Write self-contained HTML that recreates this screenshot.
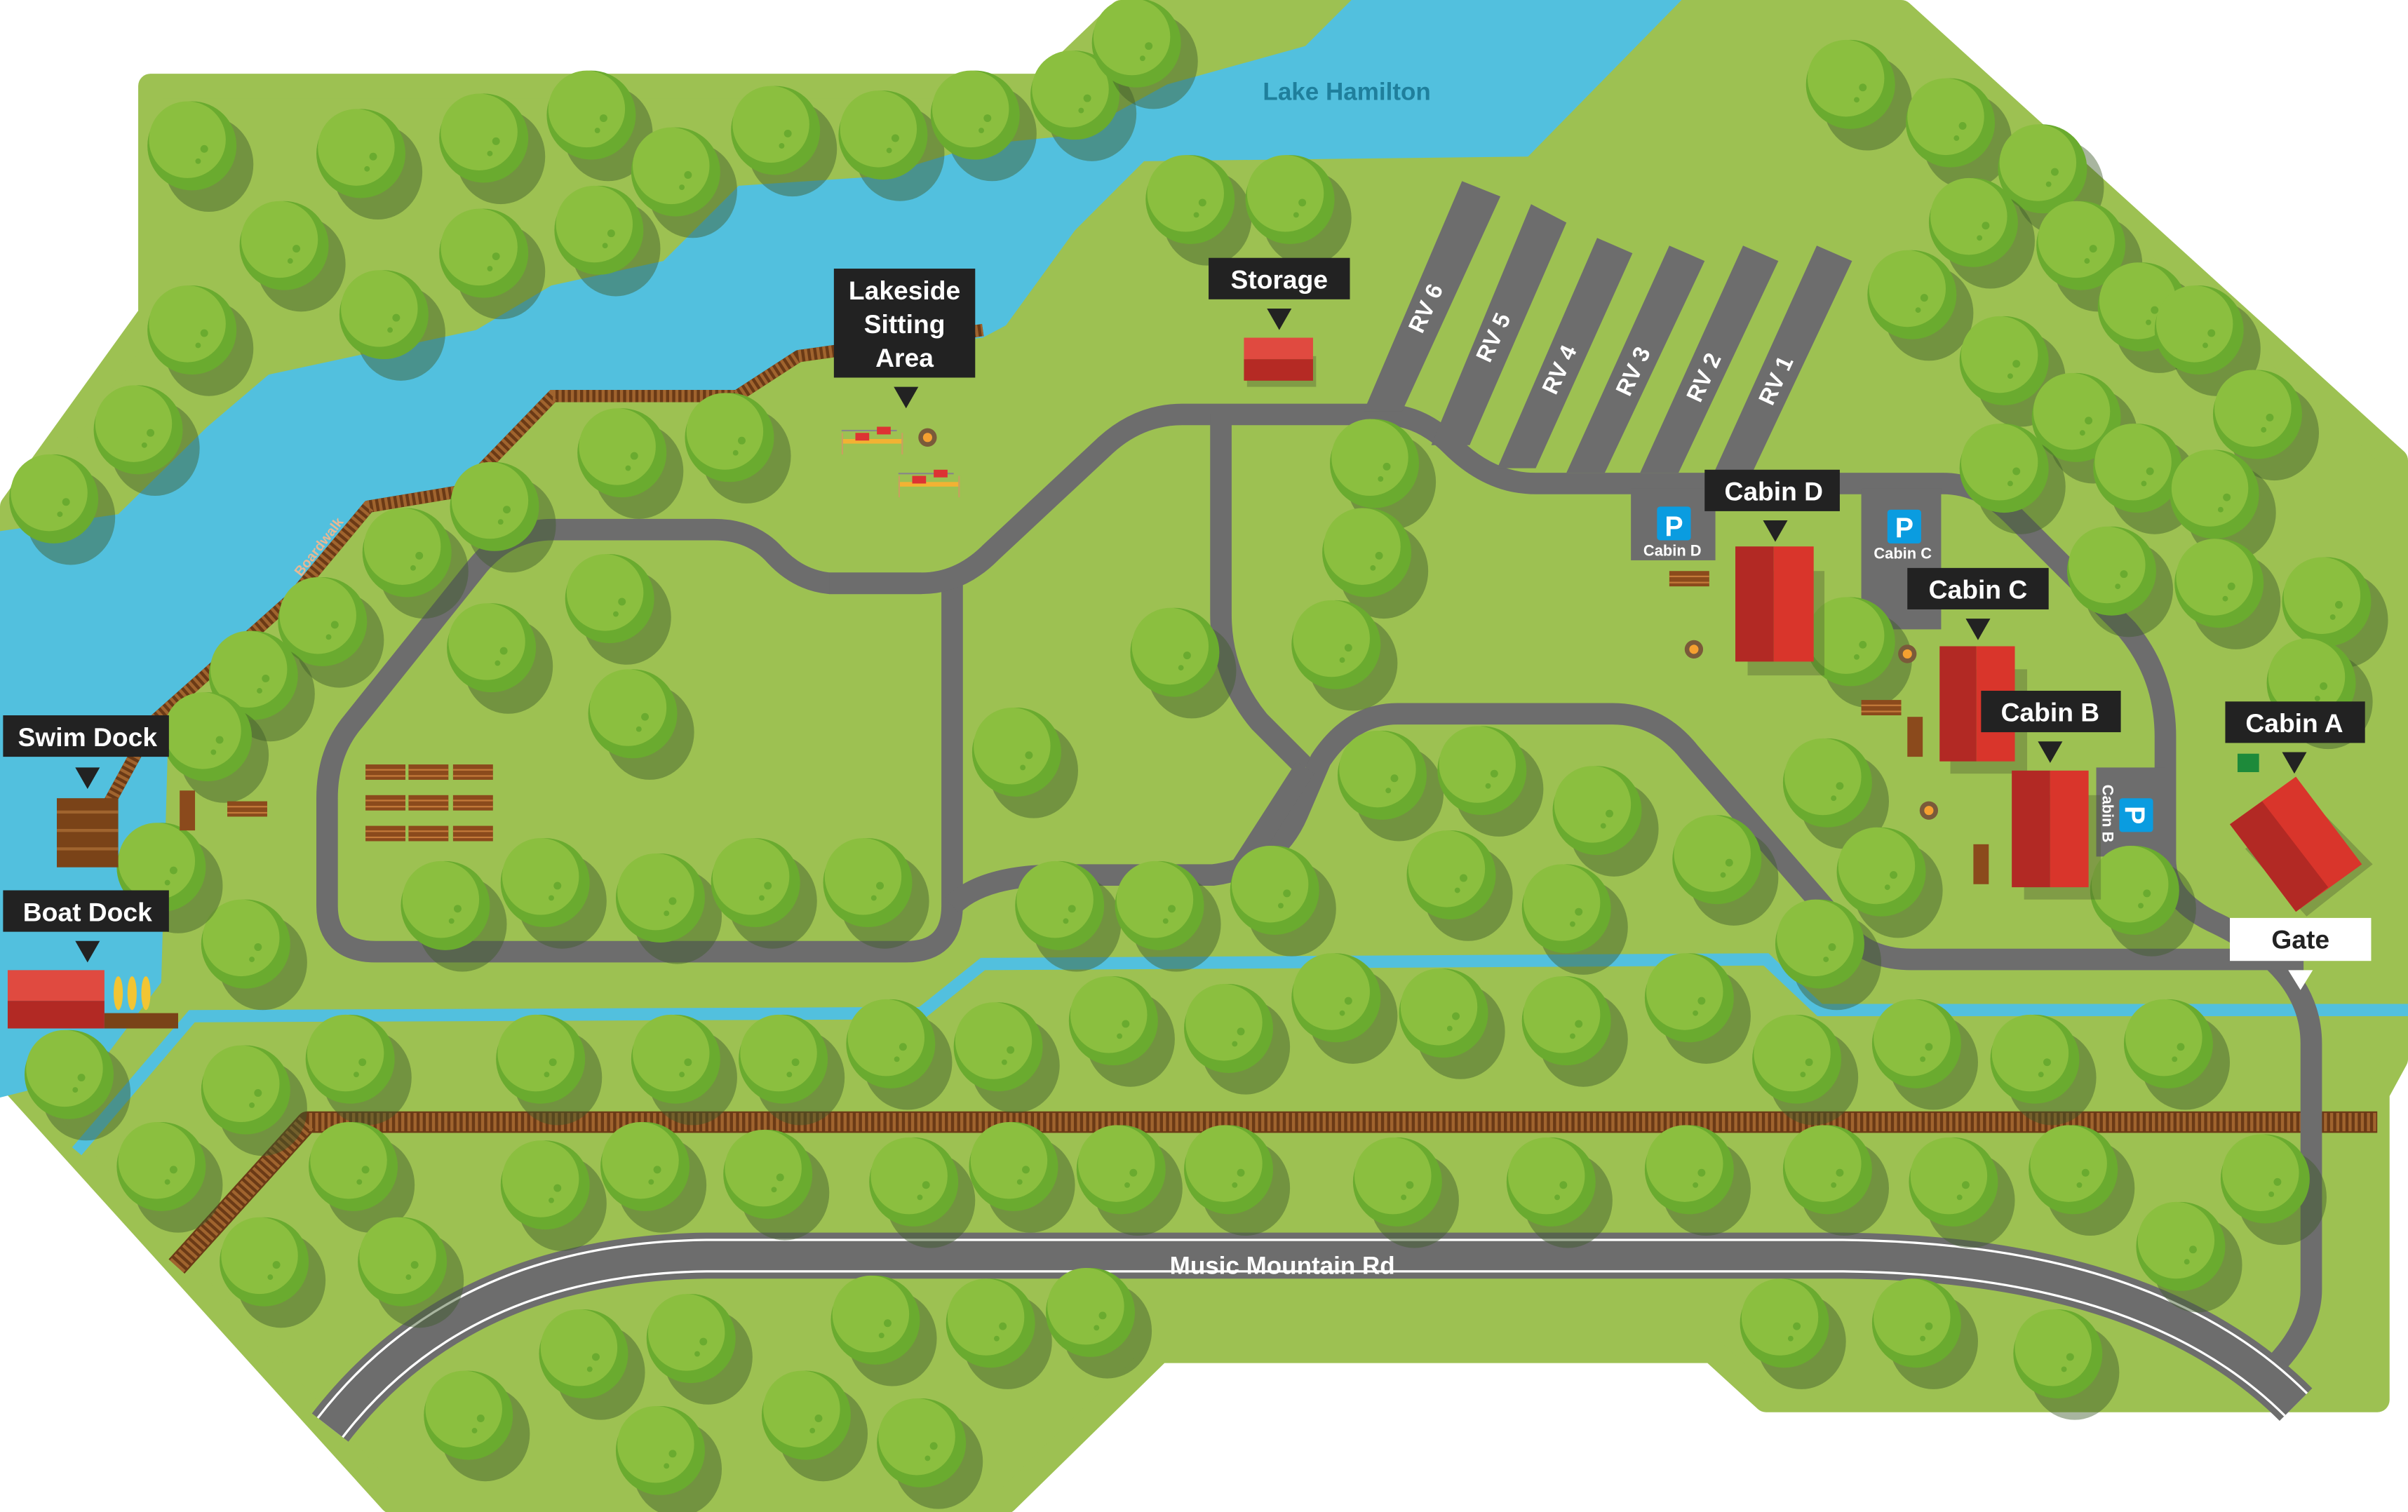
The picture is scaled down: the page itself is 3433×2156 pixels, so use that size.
<!DOCTYPE html>
<html><head><meta charset="utf-8"><style>
html,body{margin:0;padding:0;background:#fff;width:3433px;height:2156px;overflow:hidden}
svg{display:block}
.lb{font-family:"Liberation Sans",sans-serif;font-weight:bold;fill:#fff;font-size:17px;text-anchor:middle}
</style></head><body>
<svg width="3433" height="2156" viewBox="0 0 1568 985" preserveAspectRatio="none" xmlns="http://www.w3.org/2000/svg">
<defs>
<g id="t">
<ellipse cx="11" cy="12" rx="29" ry="31" fill="#3f5a2a" opacity=".45"/>
<circle cx="0" cy="0" r="29" fill="#6aab2f"/>
<ellipse cx="-3" cy="-4" rx="25" ry="25" fill="#8bbf3f"/>
<circle cx="8" cy="2" r="2.5" fill="#6aab2f"/><circle cx="4" cy="10" r="1.8" fill="#6aab2f"/>
</g>
<g id="pt"><rect x="-3" y="-10" width="36" height="1" fill="#888"/><rect x="-3" y="-4" width="40" height="3" fill="#f2b233"/><rect x="6" y="-8" width="9" height="5" fill="#d33"/><rect x="20" y="-12" width="9" height="5" fill="#d33"/><rect x="-3" y="-8" width="1" height="14" fill="#c9a060"/><rect x="36" y="-8" width="1" height="14" fill="#c9a060"/></g>
<g id="lg"><rect x="0" y="0" width="26" height="10" fill="#8b4a1c"/><rect x="0" y="3" width="26" height="1" fill="#c47a3a"/><rect x="0" y="7" width="26" height="1" fill="#c47a3a"/></g>
<g id="fp"><circle r="6" fill="#7a5a3a"/><circle r="3" fill="#f5a030"/></g>
</defs>

<!-- land -->
<polygon points="98,56 680,56 730,8 1238,8 1560,300 1560,690 1548,712 1548,912 1150,912 1115,880 755,880 655,978 255,978 8,705 8,330 98,205" fill="#9dc152" stroke="#9dc152" stroke-width="16" stroke-linejoin="round"/>

<!-- water -->
<polygon points="0,346 77,335 135,278 175,244 310,215 359,186 432,170 481,121 571,115 640,94 700,88 760,55 850,30 880,0 1095,0 995,102 745,105 700,150 655,212 640,220 520,232 480,255 360,258 300,318 245,328 200,380 110,460 105,640 60,700 0,715" fill="#52c0de"/>
<polyline points="50,750 125,662 600,660 640,628 1150,625 1185,658 1568,658" fill="none" stroke="#52c0de" stroke-width="8"/>
<text x="877" y="65" font-family="Liberation Sans,sans-serif" font-weight="bold" font-size="16" fill="#1f7f9c" text-anchor="middle">Lake Hamilton</text>

<!-- boardwalk -->
<polyline points="70,525 100,470 190,390 240,330 300,320 360,258 480,258 520,232 640,215" fill="none" stroke="#6b3a16" stroke-width="8" stroke-linejoin="round"/>
<polyline points="70,525 100,470 190,390 240,330 300,320 360,258 480,258 520,232 640,215" fill="none" stroke="#a0642e" stroke-width="8" stroke-dasharray="2,2"/>
<text transform="translate(210,358) rotate(-52)" font-family="Liberation Sans,sans-serif" font-weight="bold" font-size="9" fill="#e7b894" text-anchor="middle">Boardwalk</text>

<!-- railway -->
<polyline points="115,825 200,731 1548,731" fill="none" stroke="#6b3a16" stroke-width="14" stroke-linejoin="round"/>
<polyline points="115,825 200,731 1548,731" fill="none" stroke="#a0642e" stroke-width="12" stroke-dasharray="2,2"/>

<!-- roads -->
<g fill="none" stroke="#6d6d6d" stroke-width="14" stroke-linejoin="round" stroke-linecap="butt">
<path d="M 600,380 L 540,380 Q 520,378 505,362 Q 490,345 465,345 L 360,345 Q 330,345 310,370 L 230,470 Q 213,490 213,520 L 213,590 Q 213,620 245,620 L 590,620 Q 620,620 620,590 L 620,380"/>
<path d="M 540,380 L 600,380 Q 625,380 645,360 L 720,290 Q 742,270 770,270 L 900,270 Q 925,270 945,290 Q 970,315 1000,315 L 1265,315 Q 1290,315 1310,335 L 1385,410 Q 1410,440 1410,480 L 1410,560 Q 1410,585 1440,600 Q 1505,630 1505,680 L 1505,840 Q 1505,870 1470,900"/>
<path d="M 795,270 L 795,400 Q 795,440 820,470 L 850,500"/>
<path d="M 620,590 Q 640,570 690,570 L 790,570 Q 830,565 845,530 L 860,495 Q 880,465 910,465 L 1050,465 Q 1080,465 1100,490 L 1200,605 Q 1215,625 1245,625 L 1500,625"/>
<path d="M 850,500 L 805,570"/>
</g>
<!-- RV pads -->
<g fill="#6d6d6d">
<polygon points="888,268 913,268 977,128 952,118"/>
<polygon points="932,290 957,290 1020,145 997,133"/>
<polygon points="975,305 1000,305 1063,165 1040,155"/>
<polygon points="1020,308 1045,308 1110,170 1087,160"/>
<polygon points="1068,308 1093,308 1158,170 1135,160"/>
<polygon points="1116,308 1141,308 1206,170 1183,160"/>
</g>
<g font-family="Liberation Sans,sans-serif" font-weight="bold" font-size="15" fill="#fff" text-anchor="middle">
<text transform="translate(933,203) rotate(-65)">RV 6</text>
<text transform="translate(977,222) rotate(-65)">RV 5</text>
<text transform="translate(1020,243) rotate(-65)">RV 4</text>
<text transform="translate(1068,244) rotate(-65)">RV 3</text>
<text transform="translate(1114,248) rotate(-65)">RV 2</text>
<text transform="translate(1161,250) rotate(-65)">RV 1</text>
</g>
<!-- parking -->
<rect x="1062" y="318" width="55" height="47" fill="#6d6d6d"/>
<rect x="1212" y="318" width="52" height="92" fill="#6d6d6d"/>
<rect x="1365" y="500" width="45" height="58" fill="#6d6d6d"/>
<g font-family="Liberation Sans,sans-serif" font-weight="bold" fill="#fff" text-anchor="middle">
<rect x="1079" y="330" width="22" height="22" rx="2" fill="#0a9ce0"/><text x="1090" y="349" font-size="18">P</text><text x="1089" y="362" font-size="10">Cabin D</text>
<rect x="1229" y="332" width="22" height="22" rx="2" fill="#0a9ce0"/><text x="1240" y="350" font-size="18">P</text><text x="1239" y="364" font-size="10">Cabin C</text>
<rect x="1380" y="520" width="22" height="22" rx="2" fill="#0a9ce0"/><text transform="translate(1391,531) rotate(90)" x="0" y="7" font-size="18">P</text>
<text transform="translate(1369,530) rotate(90)" font-size="10">Cabin B</text>
</g>

<!-- Music Mountain Rd -->
<path d="M 215,930 Q 300,820 460,818 L 1200,818 Q 1400,820 1495,915" fill="none" stroke="#6d6d6d" stroke-width="30"/>
<path d="M 215,930 Q 300,820 460,818 L 1200,818 Q 1400,820 1495,915" fill="none" stroke="#fff" stroke-width="22"/>
<path d="M 215,930 Q 300,820 460,818 L 1200,818 Q 1400,820 1495,915" fill="none" stroke="#6d6d6d" stroke-width="19"/>
<text x="835" y="830" font-family="Liberation Sans,sans-serif" font-weight="bold" font-size="16" fill="#fff" text-anchor="middle">Music Mountain Rd</text>

<!-- trees -->
<g>
<use href="#t" x="125" y="95"/><use href="#t" x="235" y="100"/><use href="#t" x="315" y="90"/><use href="#t" x="385" y="75"/><use href="#t" x="440" y="112"/><use href="#t" x="505" y="85"/><use href="#t" x="575" y="88"/><use href="#t" x="635" y="75"/><use href="#t" x="700" y="62"/><use href="#t" x="740" y="28"/><use href="#t" x="185" y="160"/><use href="#t" x="315" y="165"/><use href="#t" x="390" y="150"/><use href="#t" x="125" y="215"/><use href="#t" x="250" y="205"/><use href="#t" x="90" y="280"/><use href="#t" x="35" y="325"/><use href="#t" x="775" y="130"/><use href="#t" x="840" y="130"/><use href="#t" x="405" y="295"/><use href="#t" x="475" y="285"/><use href="#t" x="265" y="360"/><use href="#t" x="322" y="330"/><use href="#t" x="210" y="405"/><use href="#t" x="397" y="390"/><use href="#t" x="165" y="440"/><use href="#t" x="320" y="422"/><use href="#t" x="412" y="465"/><use href="#t" x="135" y="480"/><use href="#t" x="290" y="590"/><use href="#t" x="355" y="575"/><use href="#t" x="430" y="585"/><use href="#t" x="492" y="575"/><use href="#t" x="565" y="575"/><use href="#t" x="662" y="490"/><use href="#t" x="690" y="590"/><use href="#t" x="755" y="590"/><use href="#t" x="765" y="425"/><use href="#t" x="895" y="302"/><use href="#t" x="890" y="360"/><use href="#t" x="870" y="420"/><use href="#t" x="830" y="580"/><use href="#t" x="900" y="505"/><use href="#t" x="965" y="502"/><use href="#t" x="1040" y="528"/><use href="#t" x="945" y="570"/><use href="#t" x="1020" y="592"/><use href="#t" x="1118" y="560"/><use href="#t" x="1190" y="510"/><use href="#t" x="1225" y="568"/><use href="#t" x="1185" y="615"/><use href="#t" x="1205" y="418"/><use href="#t" x="1390" y="580"/><use href="#t" x="160" y="615"/><use href="#t" x="105" y="565"/>
<use href="#t" x="1205" y="55"/><use href="#t" x="1270" y="80"/><use href="#t" x="1330" y="110"/><use href="#t" x="1285" y="145"/><use href="#t" x="1245" y="192"/><use href="#t" x="1355" y="160"/><use href="#t" x="1395" y="200"/><use href="#t" x="1305" y="235"/><use href="#t" x="1352" y="272"/><use href="#t" x="1432" y="215"/><use href="#t" x="1470" y="270"/><use href="#t" x="1392" y="305"/><use href="#t" x="1305" y="305"/><use href="#t" x="1375" y="372"/><use href="#t" x="1442" y="322"/><use href="#t" x="1515" y="392"/><use href="#t" x="1505" y="445"/><use href="#t" x="1445" y="380"/>
<use href="#t" x="45" y="700"/><use href="#t" x="160" y="710"/><use href="#t" x="228" y="690"/><use href="#t" x="105" y="760"/><use href="#t" x="230" y="760"/><use href="#t" x="172" y="822"/><use href="#t" x="262" y="822"/><use href="#t" x="352" y="690"/><use href="#t" x="440" y="690"/><use href="#t" x="510" y="690"/><use href="#t" x="580" y="680"/><use href="#t" x="650" y="682"/><use href="#t" x="725" y="665"/><use href="#t" x="800" y="670"/><use href="#t" x="870" y="650"/><use href="#t" x="940" y="660"/><use href="#t" x="1020" y="665"/><use href="#t" x="1100" y="650"/><use href="#t" x="1170" y="690"/><use href="#t" x="1248" y="680"/><use href="#t" x="1325" y="690"/><use href="#t" x="1412" y="680"/><use href="#t" x="1475" y="768"/><use href="#t" x="1420" y="812"/><use href="#t" x="1350" y="762"/><use href="#t" x="1272" y="770"/><use href="#t" x="1190" y="762"/><use href="#t" x="1100" y="762"/><use href="#t" x="1010" y="770"/><use href="#t" x="910" y="770"/><use href="#t" x="800" y="762"/><use href="#t" x="730" y="762"/><use href="#t" x="660" y="760"/><use href="#t" x="595" y="770"/><use href="#t" x="500" y="765"/><use href="#t" x="420" y="760"/><use href="#t" x="355" y="772"/><use href="#t" x="305" y="922"/><use href="#t" x="380" y="882"/><use href="#t" x="450" y="872"/><use href="#t" x="430" y="945"/><use href="#t" x="525" y="922"/><use href="#t" x="570" y="860"/><use href="#t" x="645" y="862"/><use href="#t" x="710" y="855"/><use href="#t" x="600" y="940"/><use href="#t" x="1162" y="862"/><use href="#t" x="1248" y="862"/><use href="#t" x="1340" y="882"/>
</g>

<!-- buildings -->
<rect x="812" y="232" width="45" height="20" fill="#4a5a30" opacity=".35"/>
<rect x="810" y="220" width="45" height="14" fill="#e04a40"/><rect x="810" y="234" width="45" height="14" fill="#b52a24"/>
<g>
<rect x="1138" y="372" width="50" height="68" fill="#4a5a30" opacity=".35"/>
<rect x="1130" y="356" width="25" height="75" fill="#b22924"/><rect x="1155" y="356" width="26" height="75" fill="#d9352b"/>
<rect x="1270" y="436" width="50" height="68" fill="#4a5a30" opacity=".35"/>
<rect x="1263" y="421" width="24" height="75" fill="#b22924"/><rect x="1287" y="421" width="25" height="75" fill="#d9352b"/>
<rect x="1318" y="518" width="50" height="68" fill="#4a5a30" opacity=".35"/>
<rect x="1310" y="502" width="25" height="76" fill="#b22924"/><rect x="1335" y="502" width="25" height="76" fill="#d9352b"/>
<polygon points="1462,553 1505,522 1545,563 1502,597" fill="#4a5a30" opacity=".35"/>
<polygon points="1452,537 1495,506 1538,563 1495,594" fill="#d9352b"/>
<polygon points="1452,537 1473,522 1516,578 1495,594" fill="#b22924"/>
<rect x="1457" y="491" width="14" height="12" fill="#1d8a3a"/>
</g>
<!-- misc: logs, fire pits, tables -->
<use href="#lg" x="1087" y="372"/><use href="#lg" x="1212" y="456"/><use href="#lg" x="238" y="498"/><use href="#lg" x="266" y="498"/><use href="#lg" x="295" y="498"/><use href="#lg" x="238" y="518"/><use href="#lg" x="266" y="518"/><use href="#lg" x="295" y="518"/><use href="#lg" x="238" y="538"/><use href="#lg" x="266" y="538"/><use href="#lg" x="295" y="538"/><use href="#lg" x="148" y="522"/>
<rect x="1242" y="467" width="10" height="26" fill="#8b4a1c"/><rect x="1285" y="550" width="10" height="26" fill="#8b4a1c"/><rect x="117" y="515" width="10" height="26" fill="#8b4a1c"/>
<use href="#fp" x="1103" y="423"/><use href="#fp" x="1242" y="426"/><use href="#fp" x="1256" y="528"/><use href="#fp" x="604" y="285"/>
<use href="#pt" x="551" y="290"/><use href="#pt" x="588" y="318"/>
<!-- docks -->
<rect x="37" y="520" width="40" height="45" fill="#7a4318"/><rect x="37" y="528" width="40" height="2" fill="#a0642e"/><rect x="37" y="540" width="40" height="2" fill="#a0642e"/><rect x="37" y="552" width="40" height="2" fill="#a0642e"/>
<rect x="5" y="632" width="63" height="20" fill="#e04a40"/><rect x="5" y="652" width="63" height="18" fill="#b22924"/>
<rect x="68" y="660" width="48" height="10" fill="#7a4318"/>
<g fill="#f2c533"><ellipse cx="77" cy="647" rx="3" ry="11"/><ellipse cx="86" cy="647" rx="3" ry="11"/><ellipse cx="95" cy="647" rx="3" ry="11"/></g>

<!-- labels -->
<g>
<rect x="543" y="175" width="92" height="71" fill="#222"/>
<text class="lb" x="589" y="195">Lakeside</text><text class="lb" x="589" y="217">Sitting</text><text class="lb" x="589" y="239">Area</text>
<polygon points="582,252 598,252 590,266" fill="#222"/>
<rect x="787" y="168" width="92" height="27" fill="#222"/><text class="lb" x="833" y="188">Storage</text>
<polygon points="825,201 841,201 833,215" fill="#222"/>
<rect x="1110" y="306" width="88" height="27" fill="#222"/><text class="lb" x="1155" y="326">Cabin D</text>
<polygon points="1148,339 1164,339 1156,353" fill="#222"/>
<rect x="1242" y="370" width="92" height="27" fill="#222"/><text class="lb" x="1288" y="390">Cabin C</text>
<polygon points="1280,403 1296,403 1288,417" fill="#222"/>
<rect x="1290" y="450" width="91" height="27" fill="#222"/><text class="lb" x="1335" y="470">Cabin B</text>
<polygon points="1327,483 1343,483 1335,497" fill="#222"/>
<rect x="1449" y="457" width="91" height="27" fill="#222"/><text class="lb" x="1494" y="477">Cabin A</text>
<polygon points="1486,490 1502,490 1494,504" fill="#222"/>
<rect x="2" y="466" width="108" height="27" fill="#222"/><text class="lb" x="57" y="486">Swim Dock</text>
<polygon points="49,500 65,500 57,514" fill="#222"/>
<rect x="2" y="580" width="108" height="27" fill="#222"/><text class="lb" x="57" y="600">Boat Dock</text>
<polygon points="49,613 65,613 57,627" fill="#222"/>
<rect x="1452" y="598" width="92" height="28" fill="#fff"/><text x="1498" y="618" font-family="Liberation Sans,sans-serif" font-weight="bold" font-size="17" fill="#222" text-anchor="middle">Gate</text>
<polygon points="1490,632 1506,632 1498,645" fill="#fff"/>
</g>
</svg>
</body></html>
